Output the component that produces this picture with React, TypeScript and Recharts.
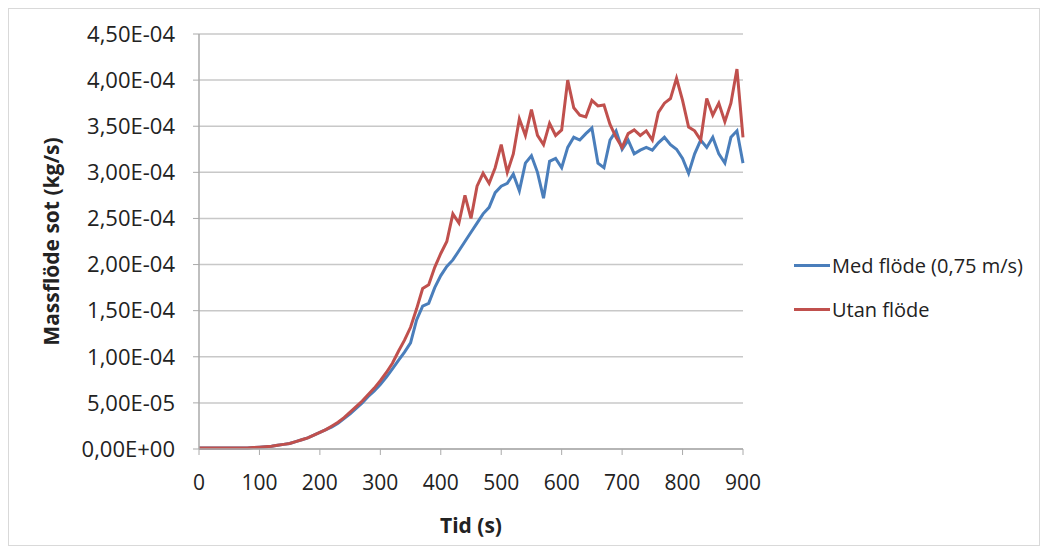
import { LineChart, Line, XAxis, YAxis, CartesianGrid } from "recharts"

// time (s), every 10 s
const times: number[] = Array.from({ length: 91 }, (_, i) => i * 10)

// Massflöde sot, units of 1e-4 kg/s
const medFlode: number[] = [
  0.01, 0.01, 0.01, 0.01, 0.01, 0.01, 0.01, 0.01, 0.01, 0.015,
  0.02, 0.025, 0.03, 0.04, 0.05, 0.06, 0.08, 0.1, 0.12, 0.15,
  0.18, 0.21, 0.24, 0.28, 0.33, 0.38, 0.44, 0.5, 0.57, 0.63,
  0.7, 0.78, 0.87, 0.96, 1.05, 1.15, 1.4, 1.55, 1.58, 1.75,
  1.88, 1.98, 2.05, 2.15, 2.25, 2.35, 2.45, 2.55, 2.62, 2.78,
  2.85, 2.88, 2.98, 2.8, 3.1, 3.18, 3.0, 2.72, 3.12, 3.15,
  3.05, 3.27, 3.38, 3.35, 3.42, 3.48, 3.1, 3.05, 3.35, 3.45,
  3.25, 3.35, 3.2, 3.24, 3.27, 3.24, 3.32, 3.38, 3.3, 3.25,
  3.15, 2.99, 3.2, 3.35, 3.27, 3.38, 3.2, 3.1, 3.38, 3.45,
  3.1,
]

const utanFlode: number[] = [
  0.01, 0.01, 0.01, 0.01, 0.01, 0.01, 0.01, 0.01, 0.01, 0.015,
  0.02, 0.025, 0.03, 0.04, 0.05, 0.06, 0.08, 0.1, 0.12, 0.15,
  0.18, 0.21, 0.25, 0.29, 0.34, 0.4, 0.46, 0.52, 0.59, 0.66,
  0.74, 0.83, 0.93, 1.06, 1.18, 1.32, 1.52, 1.74, 1.78, 1.97,
  2.12, 2.25, 2.55, 2.45, 2.75, 2.5, 2.85, 2.99, 2.88, 3.05,
  3.3, 3.0, 3.2, 3.58, 3.4, 3.68, 3.4, 3.3, 3.53, 3.4,
  3.46, 4.0, 3.7, 3.62, 3.6, 3.78, 3.72, 3.73, 3.52, 3.38,
  3.27, 3.42, 3.46, 3.4, 3.45, 3.35, 3.65, 3.75, 3.8, 4.02,
  3.78, 3.49, 3.45, 3.35, 3.8, 3.62, 3.75, 3.55, 3.75, 4.12,
  3.38,
]

const xTicks = [0, 100, 200, 300, 400, 500, 600, 700, 800, 900]
const yTicks = [0, 0.5e-4, 1e-4, 1.5e-4, 2e-4, 2.5e-4, 3e-4, 3.5e-4, 4e-4, 4.5e-4]

const SERIES = [
  { key: "med", name: "Med flöde (0,75 m/s)", color: "#4a7ebb" },
  { key: "utan", name: "Utan flöde", color: "#c0504d" },
]

const data = times.map((t, i) => ({
  t,
  med: medFlode[i] * 1e-4,
  utan: utanFlode[i] * 1e-4,
}))

const FONT = "'Open Sans', 'Noto Sans', sans-serif"

const formatSci = (v: number) => {
  if (v === 0) return "0,00E+00"
  const exp = Math.floor(Math.log10(v) + 1e-9)
  const mant = v / Math.pow(10, exp)
  const sign = exp < 0 ? "-" : "+"
  return `${mant.toFixed(2).replace(".", ",")}E${sign}${String(Math.abs(exp)).padStart(2, "0")}`
}

export default function App() {
  return (
    <div
      style={{
        width: 1030,
        height: 536,
        border: "1px solid #d9d9d9",
        position: "relative",
        background: "white",
      }}
    >
      <LineChart
        width={1030}
        height={536}
        data={data}
        margin={{ top: 25, right: 296, left: 0, bottom: 0 }}
      >
        <CartesianGrid stroke="#c8c8c8" strokeWidth={1.5} vertical={false} />
        <XAxis
          dataKey="t"
          type="number"
          domain={[0, 900]}
          ticks={xTicks}
          interval={0}
          tick={{ fontSize: 21, fill: "#222", fontFamily: FONT }}
          tickMargin={20}
          tickSize={6}
          axisLine={{ stroke: "#aaaaaa", strokeWidth: 1.5 }}
          tickLine={{ stroke: "#aaaaaa" }}
          height={96}
          label={{
            value: "Tid (s)",
            position: "insideBottom",
            offset: 12,
            style: { fontSize: 21, fontWeight: 700, fill: "#222", fontFamily: FONT },
          }}
        />
        <YAxis
          type="number"
          domain={[0, 4.5e-4]}
          ticks={yTicks}
          interval={0}
          tickFormatter={formatSci}
          tick={{ fontSize: 22, fill: "#222", fontFamily: FONT }}
          tickMargin={18}
          tickSize={6}
          axisLine={{ stroke: "#aaaaaa", strokeWidth: 1.5 }}
          tickLine={{ stroke: "#aaaaaa" }}
          width={190}
          label={{
            value: "Massflöde sot (kg/s)",
            angle: -90,
            position: "insideLeft",
            offset: 43,
            style: { fontSize: 21, fontWeight: 700, fill: "#222", fontFamily: FONT, textAnchor: "middle" },
          }}
        />
        {SERIES.map((s) => (
          <Line
            key={s.key}
            dataKey={s.key}
            name={s.name}
            stroke={s.color}
            strokeWidth={3}
            dot={false}
            type="linear"
            isAnimationActive={false}
          />
        ))}
      </LineChart>
      <div
        style={{
          position: "absolute",
          left: 785,
          top: 234,
          fontFamily: FONT,
          fontSize: 20,
          color: "#222",
        }}
      >
        {SERIES.map((s) => (
          <div key={s.key} style={{ display: "flex", alignItems: "center", height: 44 }}>
            <div style={{ width: 36, height: 3, backgroundColor: s.color, marginRight: 2 }} />
            <span>{s.name}</span>
          </div>
        ))}
      </div>
    </div>
  )
}
